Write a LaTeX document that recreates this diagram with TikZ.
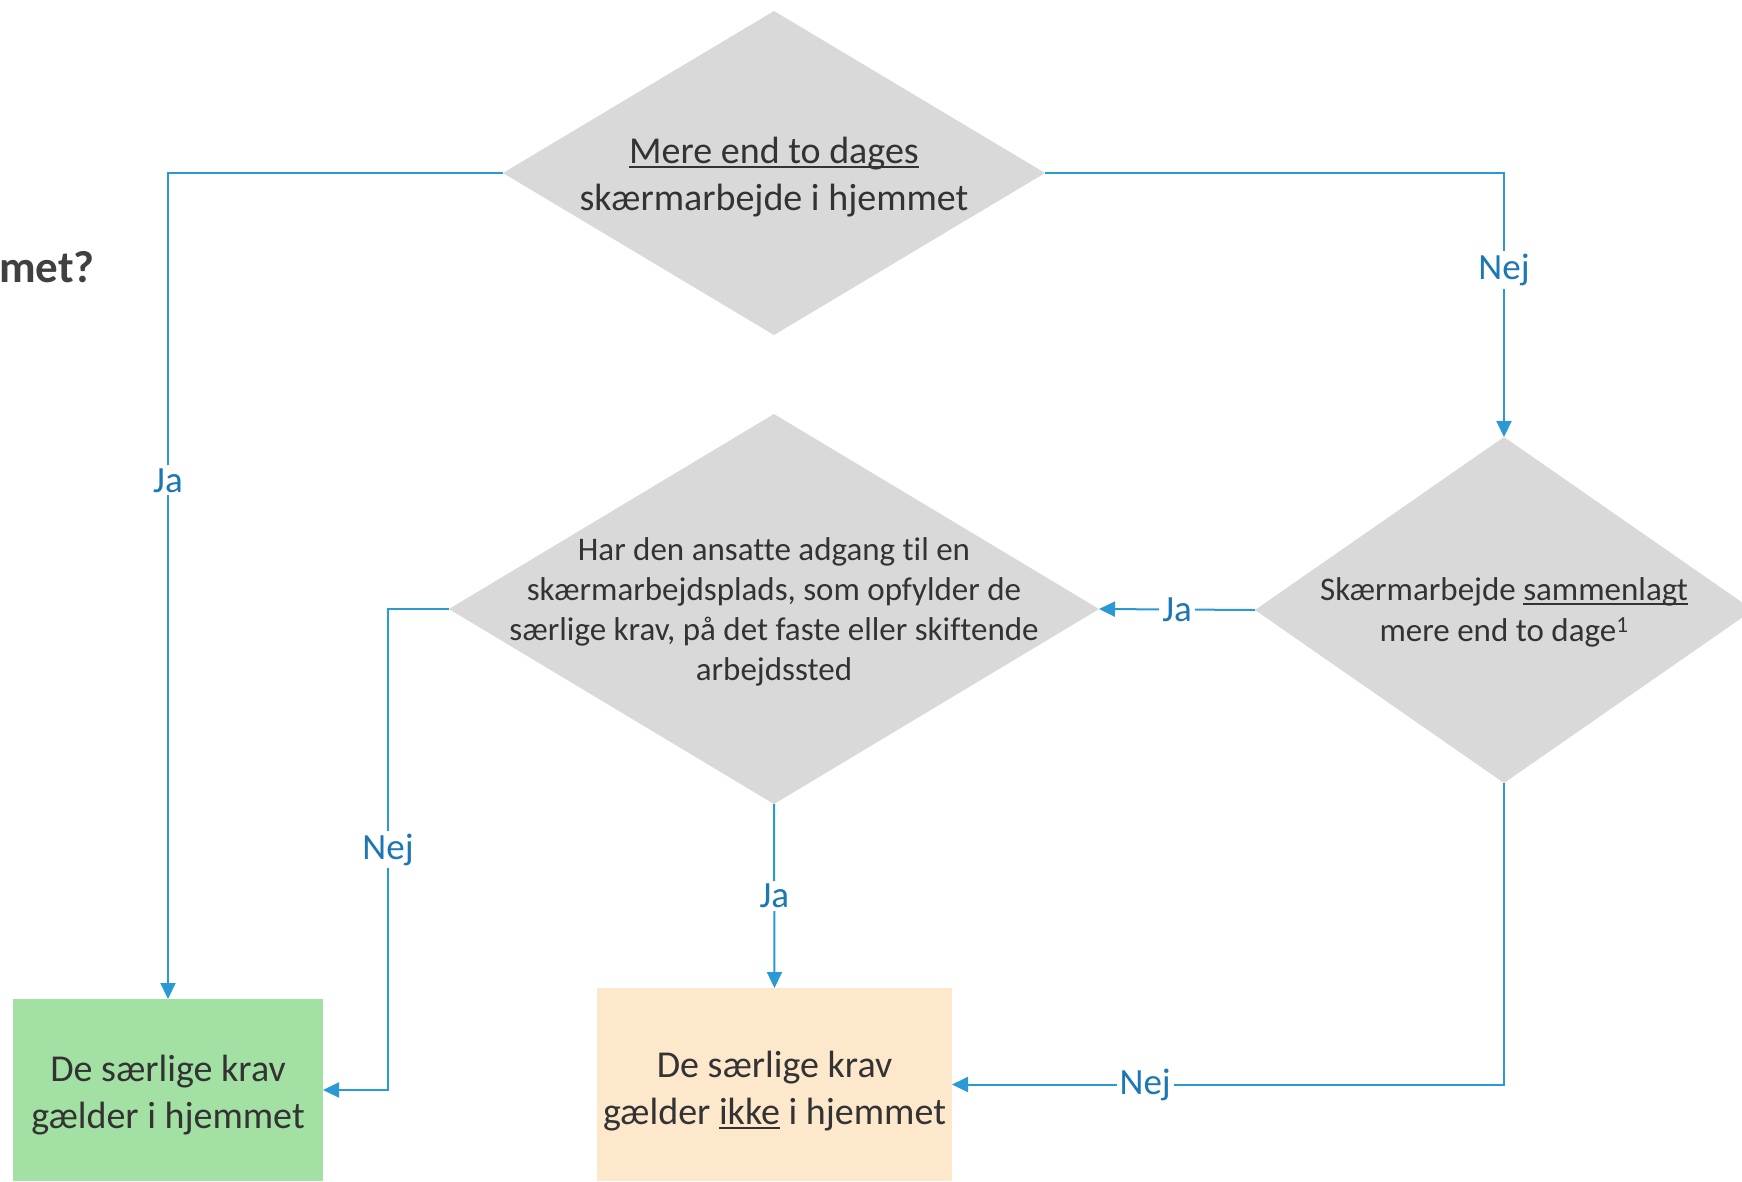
\documentclass[tikz,border=0pt]{standalone}
\usepackage{fontspec}
\setmainfont{Carlito}[Ligatures=CommonOff]
\usetikzlibrary{shapes.geometric,arrows.meta,calc}
\definecolor{dgray}{HTML}{D9D9D9}
\definecolor{linec}{HTML}{2A9AD6}
\definecolor{labc}{HTML}{1C78B4}
\definecolor{txt}{HTML}{333333}
\definecolor{greenbox}{HTML}{A3E0A3}
\definecolor{orangebox}{HTML}{FDE8CC}
\definecolor{titlec}{HTML}{404040}
\newcommand\myul[1]{\begingroup\setbox0\hbox{#1}\dimen0=\wd0 \rlap{\box0}\rule[-5pt]{\dimen0}{2pt}\endgroup}
\begin{document}
\begin{tikzpicture}[x=1pt,y=-1pt,
 decision/.style={diamond, fill=dgray, draw=none, inner sep=0pt, outer sep=0pt},
 dtext/.style={align=center, text=txt, inner sep=0pt},
 result/.style={rectangle, draw=none, inner sep=0pt, outer sep=0pt, align=center, text=txt, font=\fontsize{38}{47}\selectfont},
 conn/.style={draw=linec, line width=2pt, -{Triangle[length=16pt,width=15pt]}},
 lab/.style={fill=white, text=labc, inner sep=3pt, font=\fontsize{37}{42}\selectfont}]
\useasboundingbox (0,0) rectangle (1742,1181);
\fill[white] (0,0) rectangle (1742,1181);

\node[anchor=base east, font=\bfseries\fontsize{45}{50}\selectfont, text=titlec, inner sep=0pt] (title) at (95,282) {met?};

\node[decision, minimum width=542pt, minimum height=324pt] (d1) at (774,173) {};
\node[dtext, font=\fontsize{38}{47}\selectfont] (t1) at (774,177) {\myul{Mere end to dages}\\skærmarbejde i hjemmet};

\node[decision, minimum width=650pt, minimum height=390pt] (d3) at (774,609) {};
\node[dtext, font=\fontsize{33}{40}\selectfont] (t3) at (774,612) {Har den ansatte adgang til en\\skærmarbejdsplads, som opfylder de\\særlige krav, på det faste eller skiftende\\arbejdssted};

\node[decision, minimum width=498pt, minimum height=346pt] (d2) at (1504,610) {};
\node[dtext, font=\fontsize{33}{41}\selectfont] (t2) at (1504,612) {Skærmarbejde \myul{sammenlagt}\\mere end to dage\textsuperscript{1}};

\node[result, fill=greenbox, minimum width=310pt, minimum height=182pt] (g) at (168,1090) {};
\node[dtext, font=\fontsize{38}{47}\selectfont] (gt) at (168,1095) {De særlige krav\\gælder i hjemmet};
\node[result, fill=orangebox, minimum width=355pt, minimum height=193pt] (o) at (774.5,1084.5) {};
\node[dtext, font=\fontsize{38}{47}\selectfont] (ot) at (774.5,1091) {De særlige krav\\gælder \myul{ikke} i hjemmet};

\draw[conn] (d1.west) -| node[lab, pos=0.686] (l1) {Ja} (g.north);
\draw[conn] (d1.east) -| node[lab, pos=0.684] (l2) {Nej} (d2.north);
\draw[conn] (d2.west) -- node[lab, pos=0.5] (l3) {Ja} (d3.east);
\draw[conn] (d2.south) |- node[lab, pos=0.825] (l4) {Nej} (o.east);
\coordinate (c5) at (388,609);
\draw[conn] (d3.west) -- (c5) |- node[lab, pos=0.25] (l5) {Nej} (g.east);
\draw[conn] (d3.south) -- node[lab, pos=0.5] (l6) {Ja} (o.north);
\end{tikzpicture}
\end{document}
